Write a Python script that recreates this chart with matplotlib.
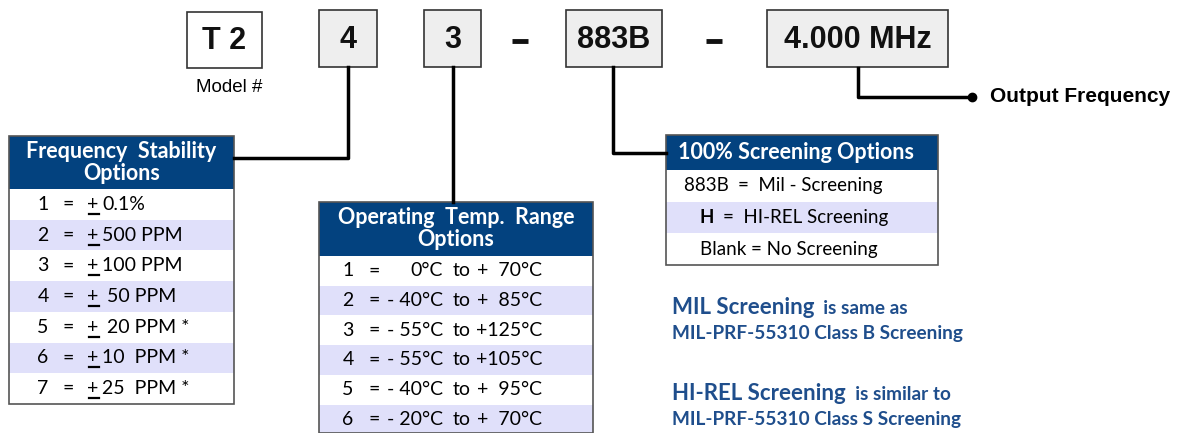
import matplotlib.pyplot as plt
from matplotlib.patches import Rectangle

# part number segments (label, left, right, fill)
part_labels = ["T 2", "4", "3", "883B", "4.000 MHz"]
part_lefts = [187, 319, 424, 566, 767]
part_rights = [262, 377, 481, 662, 948]
part_fills = ["white", "#eeeeee", "#eeeeee", "#eeeeee", "#eeeeee"]

stability_codes = ["1", "2", "3", "4", "5", "6", "7"]
stability_values = ["0.1%", "500 PPM", "100 PPM", " 50 PPM", " 20 PPM *", "10  PPM *", "25  PPM *"]

temp_codes = ["1", "2", "3", "4", "5", "6"]
temp_low = ["0°C", "- 40°C", "- 55°C", "- 55°C", "- 40°C", "- 20°C"]
temp_high = ["+  70°C", "+  85°C", "+125°C", "+105°C", "+  95°C", "+  70°C"]

screen_codes = ["883B", "H", "Blank"]
screen_desc = ["=  Mil - Screening", "=  HI-REL Screening", "= No Screening"]

NAVY = "#03427f"
LAV = "#e0e0fa"
BLUE_TXT = "#1f4e8c"
CAL = "Lato"
ARI = "Liberation Sans"
FS_ROW = 14
FS_HEAD = 15.5

fig = plt.figure(figsize=(11.82, 4.33), dpi=100)
ax = fig.add_axes([0, 0, 1, 1])
ax.set_xlim(0, 1182)
ax.set_ylim(433, 0)
ax.axis("off")

# top part-number boxes
for lab, l, r, fc in zip(part_labels, part_lefts, part_rights, part_fills):
    top, bot = (12, 68) if lab == "T 2" else (10, 67)
    ax.add_patch(Rectangle((l, top), r - l, bot - top, fc=fc, ec="#333333", lw=1.2))
    ax.text((l + r) / 2, (top + bot) / 2 + 1, lab, ha="center", va="center",
            fontsize=22, fontweight="bold", family=ARI, color="#111111")
ax.text(229, 88, "Model #", ha="center", va="center", fontsize=13.5, family=ARI)
for x in (520, 714):
    ax.plot([x - 8, x + 8], [41, 41], color="#111111", lw=3.5, solid_capstyle="butt")

lw = 2.5
# connectors
ax.plot([348, 348, 234], [67, 158, 158], color="black", lw=lw)
ax.plot([453, 453], [67, 202], color="black", lw=lw)
ax.plot([613, 613, 666], [67, 153, 153], color="black", lw=lw)
ax.plot([858, 858, 972], [68, 97, 97], color="black", lw=lw)
ax.plot([972], [97], "o", color="black", ms=6)
ax.text(990, 96, "Output Frequency", ha="left", va="center", fontsize=15,
        fontweight="bold", family=ARI)


def table(x0, x1, head_top, head_bot, row_h, n, head_lines, fs_head):
    ax.add_patch(Rectangle((x0, head_top), x1 - x0, head_bot - head_top, fc=NAVY, ec="none"))
    for i in range(n):
        if i % 2 == 1:
            ax.add_patch(Rectangle((x0, head_bot + i * row_h), x1 - x0, row_h, fc=LAV, ec="none"))
    bottom = min(head_bot + n * row_h, 433)
    ax.add_patch(Rectangle((x0, head_top), x1 - x0, bottom - head_top, fc="none",
                           ec="#555555", lw=1.2))
    cy = (head_top + head_bot) / 2
    if len(head_lines) == 1:
        ax.text((x0 + x1) / 2 - 6, cy, head_lines[0], ha="center", va="center", color="white",
                fontsize=fs_head, fontweight="bold", family=CAL)
    else:
        ax.text((x0 + x1) / 2, cy - 11, head_lines[0], ha="center", va="center", color="white",
                fontsize=fs_head, fontweight="bold", family=CAL)
        ax.text((x0 + x1) / 2, cy + 11, head_lines[1], ha="center", va="center", color="white",
                fontsize=fs_head, fontweight="bold", family=CAL)


# frequency stability table
fs_top, fs_hb, fs_rh = 136, 189, 30.7
table(9, 234, fs_top, fs_hb, fs_rh, len(stability_codes),
      ["Frequency  Stability", "Options"], FS_HEAD)
for i, (c, v) in enumerate(zip(stability_codes, stability_values)):
    cy = fs_hb + (i + 0.5) * fs_rh
    ax.text(43, cy, c, ha="center", va="center", fontsize=FS_ROW, family=CAL)
    ax.text(68, cy, "=", ha="center", va="center", fontsize=FS_ROW, family=CAL)
    ax.text(93, cy, "+", ha="center", va="center", fontsize=FS_ROW, family=CAL)
    ax.plot([88.5, 98.5], [cy + 9.5, cy + 9.5], color="black", lw=1.6)
    ax.text(102, cy, v, ha="left", va="center", fontsize=FS_ROW, family=CAL)

# operating temp table
tp_top, tp_hb, tp_rh = 202, 256, 29.7
table(319, 593, tp_top, tp_hb, tp_rh, len(temp_codes),
      ["Operating  Temp.  Range", "Options"], FS_HEAD)
for i, (c, lo, hi) in enumerate(zip(temp_codes, temp_low, temp_high)):
    cy = tp_hb + (i + 0.5) * tp_rh
    ax.text(348, cy, c, ha="center", va="center", fontsize=FS_ROW, family=CAL)
    ax.text(374, cy, "=", ha="center", va="center", fontsize=FS_ROW, family=CAL)
    ax.text(443, cy, lo, ha="right", va="center", fontsize=FS_ROW, family=CAL)
    ax.text(453, cy, "to", ha="left", va="center", fontsize=FS_ROW, family=CAL)
    ax.text(542, cy, hi, ha="right", va="center", fontsize=FS_ROW, family=CAL)

# screening table
sc_top, sc_hb, sc_rh = 135, 170, 31.7
table(666, 938, sc_top, sc_hb, sc_rh, len(screen_codes), ["100% Screening Options"], FS_HEAD)
for i, (c, d) in enumerate(zip(screen_codes, screen_desc)):
    cy = sc_hb + (i + 0.5) * sc_rh
    x = 684 if i == 0 else 700
    t = ax.text(x, cy, c + ("  " if i < 2 else " "), ha="left", va="center", fontsize=13.5,
                family=CAL, fontweight="bold" if c == "H" else "normal")
    fig.canvas.draw()
    bb = t.get_window_extent().transformed(ax.transData.inverted())
    ax.text(bb.x1, cy, d, ha="left", va="center", fontsize=13.5, family=CAL)

# notes
notes = [("MIL Screening", "  is same as", "MIL-PRF-55310 Class B Screening", 308),
         ("HI-REL Screening", "  is similar to", "MIL-PRF-55310 Class S Screening", 393)]
for big, small, line2, y in notes:
    t = ax.text(672, y, big, ha="left", va="center", fontsize=16, fontweight="bold",
                family=CAL, color=BLUE_TXT)
    fig.canvas.draw()
    bb = t.get_window_extent().transformed(ax.transData.inverted())
    ax.text(bb.x1, y + 1, small, ha="left", va="center", fontsize=13.7, fontweight="bold",
            family=CAL, color=BLUE_TXT)
    ax.text(672, y + 26, line2, ha="left", va="center", fontsize=13.7, fontweight="bold",
            family=CAL, color=BLUE_TXT)

fig.savefig("out.png", dpi=100)
